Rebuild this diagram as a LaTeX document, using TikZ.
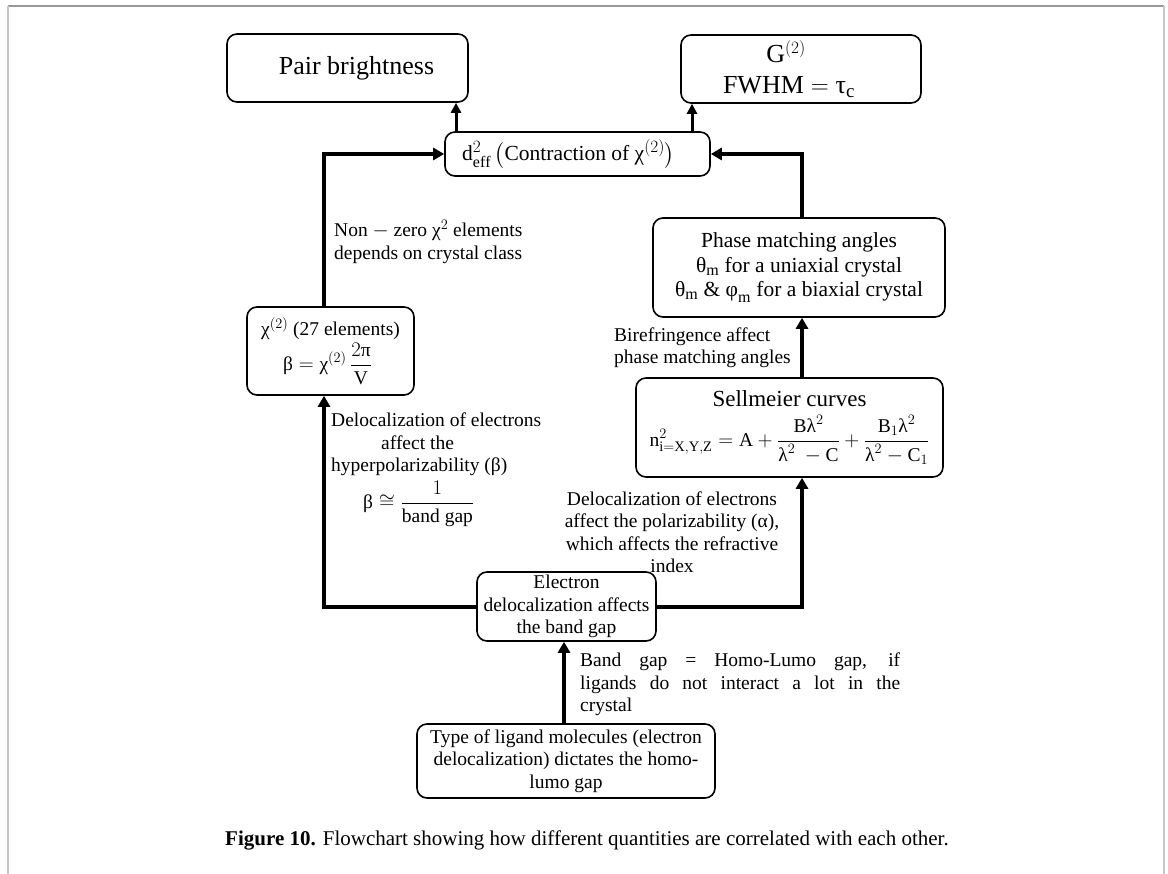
\documentclass[tikz,border=0pt]{standalone}
\usepackage{amsmath, amssymb}
\usepackage{fontspec}
\setmainfont{Liberation Serif}
\usepackage{tikz}
\usetikzlibrary{arrows.meta}

\DeclareMathSizes{19.5}{19.5}{14.5}{11}
\DeclareMathSizes{21}{21}{15.5}{12}
\DeclareMathSizes{21.5}{21.5}{16}{12}
\DeclareMathSizes{23}{23}{17}{13}
\DeclareMathSizes{26}{26}{19}{14}
\newcommand{\gk}[1]{\text{#1}}
\newcommand{\bodyfont}{\fontsize{19.5}{22.5}\selectfont}
\newcommand{\bigfont}{\fontsize{26}{31}\selectfont}
\newcommand{\midfont}{\fontsize{21.5}{24}\selectfont}
\newcommand{\phasefont}{\fontsize{21.5}{24.5}\selectfont}
\newcommand{\sellfont}{\fontsize{23}{27}\selectfont}
\newcommand{\capfont}{\fontsize{21}{24}\selectfont}

\begin{document}
\begin{tikzpicture}[x=1pt, y=-1pt,
    box/.style={draw, line width=1.6pt, rounded corners=10pt, align=center, inner sep=2pt},
    note/.style={align=center, inner sep=0pt, font=\bodyfont},
    flow/.style={line width=4pt, -{Triangle[length=11pt,width=12pt]}},
    flowthin/.style={line width=3pt, -{Triangle[length=10pt,width=10pt]}}]
    \useasboundingbox (0,0) rectangle (1168,874);
    \draw[line width=1.5pt, black!40] (8,6) -- (1164,6);
    \draw[line width=2pt, black!22] (8,6) -- (8,874) (1164,6) -- (1164,874);

    % boxes
    \node[box, minimum width=241pt, minimum height=68pt, font=\bigfont] (pair) at (347.5,68) {\hspace*{18pt}Pair brightness};
    \node[box, minimum width=240pt, minimum height=68pt, font=\bigfont] (gtwo) at (801,69) {\hspace*{-30pt}$\mathrm{G}^{(2)}$\\ \hspace*{-24pt}$\mathrm{FWHM} = \gk{τ}_{\mathrm{c}}$};
    \node[box, minimum width=265pt, minimum height=44pt, font=\midfont] (deff) at (577.5,154) {\hspace*{-18pt}$\mathrm{d}^2_{\mathrm{eff}}\,\bigl(\text{Contraction of } \gk{χ}^{(2)}\bigr)$};
    \node[box, minimum width=292pt, minimum height=99pt, font=\phasefont] (phase) at (799,267.5) {Phase matching angles\\ $\gk{θ}_{\mathrm{m}}$ for a uniaxial crystal\\ $\gk{θ}_{\mathrm{m}}$ \& $\gk{φ}_{\mathrm{m}}$ for a biaxial crystal};
    \node[box, minimum width=307pt, minimum height=99pt, font=\bodyfont] (sell) at (789.5,427.5) {{\sellfont Sellmeier curves}\\[7pt] $\mathrm{n}^2_{\mathrm{i=X,Y,Z}} = \mathrm{A} + \dfrac{\mathrm{B}\gk{λ}^2}{\gk{λ}^2\ -\mathrm{C}} + \dfrac{\mathrm{B}_1\gk{λ}^2}{\gk{λ}^2-\mathrm{C}_1}$};
    \node[box, minimum width=167pt, minimum height=88pt, font=\bodyfont, align=left] (chi) at (330.5,351) {$\gk{χ}^{(2)}$ (27 elements)\\[2pt] \hspace*{22pt}$\gk{β} = \gk{χ}^{(2)}\,\dfrac{2\gk{π}}{\mathrm{V}}$};
    \node[box, minimum width=179pt, minimum height=69pt, font=\bodyfont] (elec) at (566.5,606.5) {Electron\\ delocalization affects\\ the band gap};
    \node[box, minimum width=298pt, minimum height=74pt, font=\bodyfont] (ligand) at (566,761) {Type of ligand molecules (electron\\ delocalization) dictates the homo-\\ lumo gap};

    % labels
    \node[note, anchor=west, align=left] (zerolbl) at (334,241.5) {Non $-$ zero $\gk{χ}^2$ elements\\ depends on crystal class};
    \node[note, anchor=west, align=left] (hyplbl) at (331,470) {Delocalization of electrons\\ \hspace*{50pt}affect the\\ hyperpolarizability (β)\\[4pt] \hspace*{32pt}$\gk{β} \cong \dfrac{1}{\text{band gap}}$};
    \node[note, anchor=west, align=left] (birelbl) at (614,347.5) {Birefringence affect\\ phase matching angles};
    \node[note] (pollbl) at (672,532) {Delocalization of electrons\\ affect the polarizability (α),\\ which affects the refractive\\ index};
    \node[note, anchor=west, text width=320pt, align=justify] (gaplbl) at (580,684.5) {Band gap = Homo-Lumo gap, if\linebreak ligands do not interact a lot in the\linebreak crystal};
    \node[font=\capfont] (caption) at (587,840) {\textbf{Figure 10.} Flowchart showing how different quantities are correlated with each other.};

    % connectors
    \coordinate (lx) at (324,0);
    \coordinate (rx) at (802,0);
    \coordinate (px) at (456,0);
    \coordinate (gx) at (692,0);
    \coordinate (bx) at (564,0);
    \draw[flow] (elec.west) -| (chi.south -| lx);
    \draw[flow] (chi.north -| lx) |- (deff.west);
    \draw[flow] (elec.east) -| (sell.south -| rx);
    \draw[flow] (sell.north -| rx) -- (phase.south -| rx);
    \draw[flow] (phase.north -| rx) |- (deff.east);
    \draw[flowthin] (deff.north -| px) -- (pair.south -| px);
    \draw[flowthin] (deff.north -| gx) -- (gtwo.south -| gx);
    \draw[flow] (ligand.north -| bx) -- (elec.south -| bx);
\end{tikzpicture}
\end{document}
